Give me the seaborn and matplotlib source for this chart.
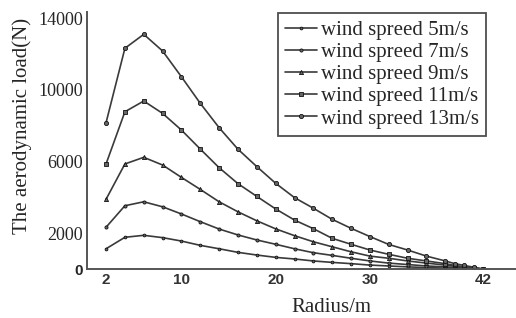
import numpy as np
import pandas as pd
import matplotlib
matplotlib.use('Agg')
import matplotlib.pyplot as plt
import seaborn as sns

sns.set_theme(style='white')
plt.rcParams['font.family'] = ['Liberation Serif', 'DejaVu Serif']

# Data
radius = [2, 4, 6, 8, 10, 12, 14, 16, 18, 20, 22, 24, 26, 28, 30, 32, 34, 36, 38, 39, 40, 41, 42]
load_5 = [1130, 1770, 1880, 1750, 1560, 1320, 1130, 930, 780, 650, 560, 450, 370, 300, 220, 170,
          120, 80, 50, 35, 20, 10, 0]
load_7 = [2330, 3530, 3750, 3470, 3070, 2640, 2230, 1900, 1620, 1380, 1130, 910, 760, 600, 450,
          330, 250, 170, 120, 80, 50, 25, 0]
load_9 = [3890, 5860, 6230, 5800, 5110, 4440, 3750, 3190, 2690, 2240, 1860, 1520, 1240, 960,
          720, 600, 450, 330, 220, 150, 100, 50, 0]
load_11 = [5860, 8770, 9370, 8680, 7750, 6690, 5650, 4760, 4050, 3350, 2730, 2250, 1710, 1380,
           1060, 820, 600, 450, 300, 200, 120, 60, 0]
load_13 = [8160, 12310, 13090, 12160, 10720, 9240, 7880, 6680, 5710, 4780, 3980, 3390, 2770,
           2270, 1810, 1370, 1060, 720, 450, 300, 200, 100, 0]
labels = ['wind spreed 5m/s', 'wind spreed 7m/s', 'wind spreed 9m/s',
          'wind spreed 11m/s', 'wind spreed 13m/s']
markers = ['.', '.', '^', 's', 'o']
msizes = [4, 4.5, 3, 3, 3]

series = [load_5, load_7, load_9, load_11, load_13]

fig = plt.figure(figsize=(5.16, 3.18), dpi=100)
ax = fig.add_axes([0.169, 0.154, 0.831, 0.808])

for vals, lab, mk, ms in zip(series, labels, markers, msizes):
    df = pd.DataFrame({'radius': radius, 'load': vals})
    sns.lineplot(data=df, x='radius', y='load', ax=ax, color='#3a3a3a', linewidth=1.2,
                 marker=mk, markersize=ms, markerfacecolor='#666666',
                 markeredgecolor='#111111', markeredgewidth=0.6, label=lab)

ax.set_xlim(0, 45.5)
ax.set_ylim(0, 14330)
ax.set_xticks([2, 10, 20, 30, 42])
ax.set_yticks([0, 2000, 6000, 10000, 14000])
ax.set_xticklabels(['2', '10', '20', '30', '42'], family='Liberation Sans', fontsize=11,
                   fontweight='bold', color='#333333')
ax.set_yticklabels(['0', '2000', '6000', '10000', '14000'], fontsize=13)
ax.get_yticklabels()[0].set_family('Liberation Sans')
ax.get_yticklabels()[0].set_fontweight('bold')
ax.get_yticklabels()[0].set_fontsize(11)
ax.tick_params(direction='in', length=4, width=1, color='#444444', pad=3)

sns.despine(ax=ax)
for s in ['left', 'bottom']:
    ax.spines[s].set_color('#555555')
    ax.spines[s].set_linewidth(1.4)

ax.set_xlabel('Radius/m', fontsize=15)
ax.set_ylabel('The aerodynamic load(N)', fontsize=15)
ax.xaxis.set_label_coords(0.569, -0.112)
ax.yaxis.set_label_coords(-0.128, 0.558)

leg = ax.legend(loc='upper right', bbox_to_anchor=(0.93, 0.995), fontsize=15,
                frameon=True, fancybox=False, handlelength=1.5, handletextpad=0.2,
                labelspacing=0.12, borderpad=0.35, borderaxespad=0)
leg.get_frame().set_edgecolor('#222222')
leg.get_frame().set_linewidth(1.3)

fig.savefig('out.png', dpi=100)
